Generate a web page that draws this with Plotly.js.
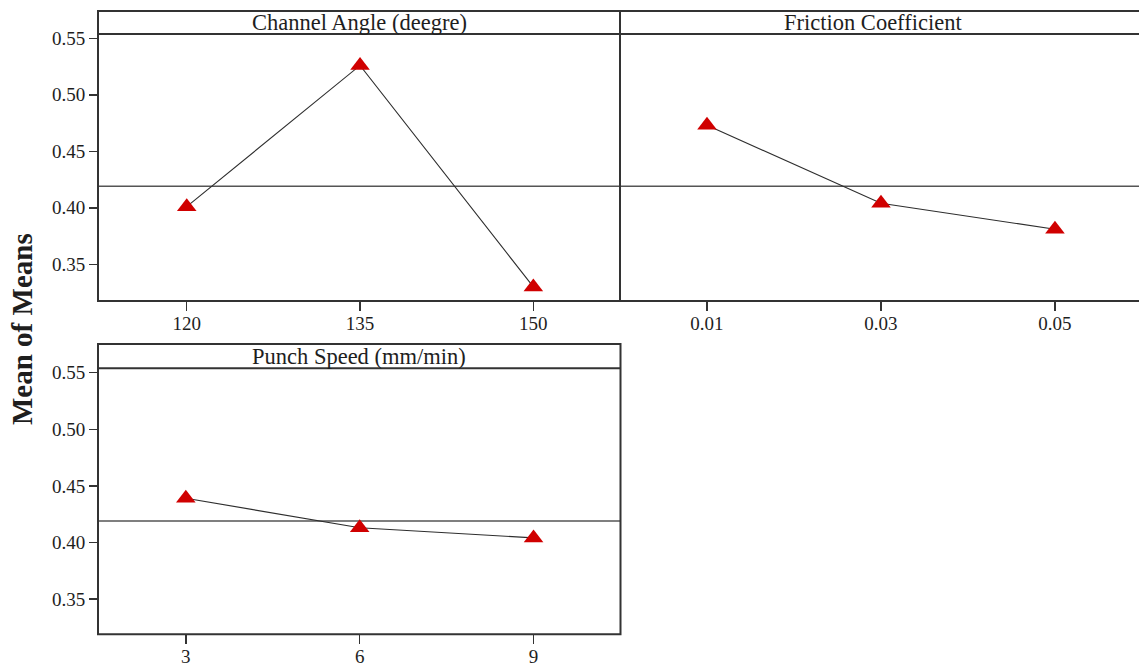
<!DOCTYPE html>
<html>
<head>
<meta charset="utf-8">
<script src="https://cdn.plot.ly/plotly-3.0.1.min.js"></script>
<style>
  html, body { margin: 0; padding: 0; background: #ffffff; }
  #chart { width: 1139px; height: 668px; }
</style>
</head>
<body>
<div id="chart"></div>
<script>
// Main effects plot for means: one panel per factor, shared y scale.
const channelAngleLevels = ['120', '135', '150'];
const channelAngleMeans = [0.401, 0.526, 0.330];

const frictionLevels = ['0.01', '0.03', '0.05'];
const frictionMeans = [0.473, 0.404, 0.381];

const punchSpeedLevels = ['3', '6', '9'];
const punchSpeedMeans = [0.439, 0.413, 0.404];

const grandMean = 0.419;

const yTickValues = [0.35, 0.40, 0.45, 0.50, 0.55];
const yTickLabels = ['0.35', '0.40', '0.45', '0.50', '0.55'];

const panelTitles = ['Channel Angle (deegre)', 'Friction Coefficient', 'Punch Speed (mm/min)'];
const yAxisTitle = 'Mean of Means';

// Page geometry in pixels, converted to paper fractions.
const W = 1139, H = 668;
const fx = v => v / W;
const fy = v => 1 - v / H;

const FONT = 'Liberation Serif, Times New Roman, serif';
const INK = '#1e1e1e';
const FRAME = '#333333';

function effectTrace(levels, means, xa, ya) {
  return {
    x: levels, y: means, xaxis: xa, yaxis: ya,
    type: 'scatter', mode: 'lines+markers',
    line: { color: '#2e2e2e', width: 1.1 },
    marker: { symbol: 'triangle-up', size: 17, color: '#d00000', line: { width: 0 } },
    hoverinfo: 'x+y', showlegend: false
  };
}

const data = [
  effectTrace(channelAngleLevels, channelAngleMeans, 'x', 'y'),
  effectTrace(frictionLevels, frictionMeans, 'x2', 'y2'),
  effectTrace(punchSpeedLevels, punchSpeedMeans, 'x3', 'y3')
];

const xCommon = {
  type: 'category', showline: false, showgrid: false, zeroline: false,
  ticks: 'outside', ticklen: 9, tickwidth: 1.5, tickcolor: FRAME,
  ticklabelstandoff: -4,
  tickfont: { family: FONT, size: 19, color: INK }, fixedrange: true
};
const yCommon = {
  showline: false, showgrid: false, zeroline: false,
  tickvals: yTickValues, ticktext: yTickLabels,
  ticks: 'outside', ticklen: 8, tickwidth: 1.5, tickcolor: FRAME,
  tickfont: { family: FONT, size: 19, color: INK }, fixedrange: true
};

const topRange = [0.3175, 0.5538];
const bottomRange = [0.3188, 0.5539];

const layout = {
  width: W, height: H,
  margin: { l: 0, r: 0, t: 0, b: 0 },
  paper_bgcolor: '#ffffff', plot_bgcolor: '#ffffff',
  font: { family: FONT, color: INK },
  showlegend: false,
  xaxis: Object.assign({}, xCommon, { domain: [fx(98), fx(620)], anchor: 'y', range: [-0.512, 2.5] }),
  yaxis: Object.assign({}, yCommon, { domain: [fy(301), fy(34)], anchor: 'x', range: topRange }),
  xaxis2: Object.assign({}, xCommon, { domain: [fx(620), 1], anchor: 'y2', range: [-0.5, 2.483] }),
  yaxis2: Object.assign({}, yCommon, { domain: [fy(301), fy(34)], anchor: 'x2', range: topRange,
                                       showticklabels: false, ticks: '' }),
  xaxis3: Object.assign({}, xCommon, { domain: [fx(98), fx(620.5)], anchor: 'y3', range: [-0.505, 2.5] }),
  yaxis3: Object.assign({}, yCommon, { domain: [fy(634.3), fy(368.3)], anchor: 'x3', range: bottomRange }),
  shapes: [
    // grand mean reference lines
    { type: 'line', xref: 'x domain', yref: 'y', x0: 0, x1: 1, y0: grandMean, y1: grandMean,
      line: { color: '#555555', width: 1.4 }, layer: 'below' },
    { type: 'line', xref: 'x2 domain', yref: 'y2', x0: 0, x1: 1, y0: grandMean, y1: grandMean,
      line: { color: '#555555', width: 1.4 }, layer: 'below' },
    { type: 'line', xref: 'x3 domain', yref: 'y3', x0: 0, x1: 1, y0: grandMean, y1: grandMean,
      line: { color: '#555555', width: 1.4 }, layer: 'below' },
    // panel frames with title strips
    { type: 'rect', xref: 'paper', yref: 'paper', x0: fx(98), x1: fx(620), y0: fy(301), y1: fy(11),
      line: { color: FRAME, width: 2 } },
    { type: 'rect', xref: 'paper', yref: 'paper', x0: fx(620), x1: fx(1143), y0: fy(301), y1: fy(11),
      line: { color: FRAME, width: 2 } },
    { type: 'line', xref: 'paper', yref: 'paper', x0: fx(98), x1: fx(1143), y0: fy(34), y1: fy(34),
      line: { color: FRAME, width: 2 } },
    { type: 'rect', xref: 'paper', yref: 'paper', x0: fx(98), x1: fx(620.5), y0: fy(634.3), y1: fy(344),
      line: { color: FRAME, width: 2 } },
    { type: 'line', xref: 'paper', yref: 'paper', x0: fx(98), x1: fx(620.5), y0: fy(368.3), y1: fy(368.3),
      line: { color: FRAME, width: 2 } }
  ],
  annotations: [
    { text: panelTitles[0], xref: 'paper', yref: 'paper', x: fx(359), y: fy(22.5),
      xanchor: 'center', yanchor: 'middle', showarrow: false,
      font: { family: FONT, size: 22.5, color: INK } },
    { text: panelTitles[1], xref: 'paper', yref: 'paper', x: fx(873), y: fy(22.5),
      xanchor: 'center', yanchor: 'middle', showarrow: false,
      font: { family: FONT, size: 22.5, color: INK } },
    { text: panelTitles[2], xref: 'paper', yref: 'paper', x: fx(359), y: fy(356),
      xanchor: 'center', yanchor: 'middle', showarrow: false,
      font: { family: FONT, size: 22.5, color: INK } },
    { text: '<b>' + yAxisTitle + '</b>', xref: 'paper', yref: 'paper', x: fx(22), y: fy(329),
      xanchor: 'center', yanchor: 'middle', textangle: -90, showarrow: false,
      font: { family: FONT, size: 29, color: INK } }
  ]
};

Plotly.newPlot('chart', data, layout, { displayModeBar: false, staticPlot: true });
</script>
</body>
</html>
